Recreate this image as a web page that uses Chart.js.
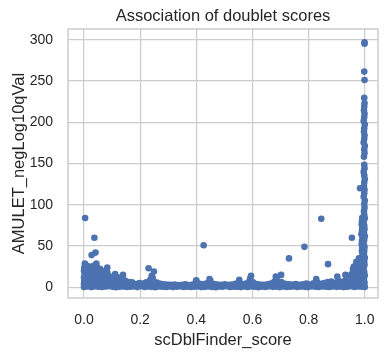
<!DOCTYPE html>
<html><head><meta charset="utf-8">
<script src="https://cdn.jsdelivr.net/npm/chart.js@4.4.0/dist/chart.umd.min.js"></script>
<style>html,body{margin:0;padding:0;background:#fff}#wrap{width:389px;height:357px;position:relative}</style>
</head><body><div id="wrap"><canvas id="c"></canvas></div>
<script>
const xTickValues = [0, 0.2, 0.4, 0.6, 0.8, 1.0];
const yTickValues = [0, 50, 100, 150, 200, 250, 300];

// isolated / scattered cells
const outlierScores = [0.004,0.037,0.027,0.041,0.426,0.845,0.785,0.730,0.869,0.954,0.961,0.970,0.983,0.230,0.249,0.111,0.139,0.083,0.702,0.686,0.931,0.902,0.827,0.592,0.595,0.683,0.553,0.447,0.400];
const outlierNegLog10q = [84,60,39,42,51,83,49,35,28,60,25,31,120,23,19,16,15,24,15,11,15,13,10,11,14,13,9,10,8.6];

// dense cluster at low scDblFinder score
const clusterScores = [
0.000,0.001,0.000,0.002,0.000,0.001,0.003,
0.012,0.011,0.013,0.012,0.010,0.014,
0.024,0.025,0.023,0.026,0.024,0.022,
0.036,0.037,0.035,0.038,0.036,0.034,
0.048,0.047,0.049,0.046,0.050,0.048,0.044,
0.060,0.061,0.059,0.062,0.058,
0.072,0.073,0.071,0.070,0.074,
0.085,0.084,0.086,0.083,
0.097,0.098,0.096,
0.110,0.109,0.112,
0.122,0.121,0.123,
0.134,0.135,
0.147,0.146,
0.160,
0.236,0.241,0.245];
const clusterNegLog10q = [
3.8,8.2,11.7,16.4,20.1,23.9,28.6,
6.3,9.8,14.2,18.1,22.4,25.7,
4.1,8.0,12.3,15.8,19.6,24.2,
5.7,10.4,13.9,18.3,21.8,26.1,
4.4,7.9,12.1,16.2,20.5,23.8,28.9,
6.1,9.7,14.3,17.8,22.2,
3.9,8.4,11.8,16.1,19.7,
5.8,10.2,13.6,17.9,
5.2,9.1,12.8,
6.3,9.9,13.7,
5.1,8.8,11.9,
5.9,9.6,
4.8,8.1,
6.2,
9.2,13.8,11.1];

// bulk of cells near zero
const bandLowScores = [0.000,0.013,0.026,0.038,0.051,0.063,0.077,0.089,0.102,0.114,0.127,0.140,0.152,0.165,0.178,0.190,0.203,0.216,0.228,0.241,0.254,0.266,0.279,0.292,0.304,0.317,0.330,0.342,0.355,0.368,0.380,0.393,0.406,0.418,0.431,0.444,0.456,0.469,0.482,0.494,0.507,0.520,0.532,0.545,0.558,0.570,0.583,0.596,0.608,0.621,0.634,0.646,0.659,0.672,0.684,0.697,0.710,0.722,0.735,0.748,0.760,0.773,0.786,0.798,0.811,0.824,0.836,0.849,0.862,0.874,0.887,0.900,0.912,0.925,0.938,0.950,0.963,0.976,0.988,1.000];
const bandLowNegLog10q = [0.4,0.9,0.2,1.1,0.6,0.3,0.8,1.2,0.5,0.1,0.7,1.0,0.3,0.6,0.9,0.2,1.3,0.4,0.8,0.5,0.1,1.0,0.6,0.3,0.9,0.2,0.7,1.1,0.4,0.8,0.3,0.6,1.0,0.2,0.5,0.9,0.4,0.1,0.8,0.6,1.2,0.3,0.7,0.5,0.2,1.0,0.4,0.9,0.6,0.1,0.8,0.3,1.1,0.5,0.7,0.2,0.9,0.4,0.6,1.0,0.3,0.8,0.5,0.2,1.1,0.7,0.4,0.9,0.6,0.3,1.0,0.5,0.8,0.2,0.7,1.2,0.4,0.9,0.6,0.3];
const bandHighScores = [0.007,0.020,0.032,0.045,0.057,0.070,0.083,0.096,0.108,0.121,0.134,0.146,0.159,0.171,0.184,0.197,0.209,0.222,0.235,0.247,0.260,0.273,0.285,0.298,0.311,0.323,0.336,0.349,0.361,0.374,0.387,0.399,0.412,0.425,0.437,0.450,0.463,0.475,0.488,0.501,0.513,0.526,0.539,0.551,0.564,0.577,0.589,0.602,0.615,0.627,0.640,0.653,0.665,0.678,0.691,0.703,0.716,0.729,0.741,0.754,0.767,0.779,0.792,0.805,0.817,0.830,0.843,0.855,0.868,0.881,0.893,0.906,0.919,0.931,0.944,0.957,0.969,0.982,0.994];
const bandHighNegLog10q = [4,3.5,4.2,3.8,4.5,3.6,4.1,5.5,4.8,6.2,5.1,6.8,4.6,5.9,3.9,5.2,4.4,6.0,5.3,7.5,5.8,4.1,3.6,3.2,2.9,3.4,2.8,3.1,3.6,2.7,3.3,7.5,4.2,3.5,4.8,8.0,4.0,3.3,3.0,3.5,2.9,3.2,4.1,6.0,3.8,4.6,7.2,6.0,3.9,3.4,3.1,3.7,4.5,6.8,5.2,6.2,4.3,3.5,3.2,3.8,3.1,3.6,4.4,3.3,4.9,6.0,4.2,5.1,6.3,7.0,5.4,7.8,6.6,8.2,9.0,10.5,12,15,18];

// rising cloud at high score
const rightScores = [
0.940,0.941,0.939,
0.950,0.951,0.949,0.952,
0.960,0.961,0.959,0.962,0.960,0.958,
0.970,0.971,0.969,0.972,0.970,0.968,0.971,
0.980,0.981,0.979,0.982,0.980,0.978,0.981,0.983,0.979,
0.990,0.991,0.989,0.992,0.990,0.988,0.991,0.990,0.989,0.992,0.990,0.991,0.989,0.990,0.992,0.988,0.990,0.991,0.989,0.990,0.991];
const rightNegLog10q = [
3.2,7.1,10.8,
4.3,8.2,11.9,15.6,
3.1,7.4,11.2,14.8,19.3,22.1,
4.2,8.1,12.3,15.9,20.2,24.1,27.8,
3.3,7.2,10.9,15.1,19.2,22.8,27.1,30.9,35.2,
4.1,8.3,12.2,16.4,20.1,24.3,28.2,32.1,36.4,40.2,44.1,48.3,52.2,56.1,60.4,64.2,68.3,72.1,76.4,80.2,84.3];

// column of cells with score ~1
const columnScores = [0.998,0.999,0.997,1.000,0.998,0.996,0.999,0.998,1.000,0.997,0.998,0.999,0.996,0.998,1.000,0.997,0.999,0.998,0.996,1.000,0.998,0.997,0.999,0.998,1.000,0.996,0.998,0.999,0.997,0.998,1.000,0.998,0.996,0.999,0.998,0.997,0.999,0.998,1.000,0.996,0.998,0.999,0.997,0.998,1.000,0.996,0.998,0.999,0.997,0.998,0.999,0.998,0.999,0.998,0.999,0.999];
const columnNegLog10q = [1.5,5.8,9.9,14.2,18.6,22.7,27.1,31.3,35.8,40.2,44.4,48.9,53.1,57.6,61.8,66.2,70.5,74.9,79.1,83.6,87.8,92.2,96.5,100.9,105.1,109.6,113.8,118.2,122.5,126.9,131.2,135.6,139.8,144.1,148.5,158.2,162.6,166.9,171.3,175.5,179.9,184.2,188.6,192.8,197.3,201.5,205.9,210.2,214.6,218.8,223.1,229.5,251.2,261.4,295.1,297.0];

const points = [];
function addGroup(xs, ys) { for (let i = 0; i < xs.length; i++) points.push({x: xs[i], y: ys[i]}); }
addGroup(bandLowScores, bandLowNegLog10q);
addGroup(bandHighScores, bandHighNegLog10q);
addGroup(clusterScores, clusterNegLog10q);
addGroup(rightScores, rightNegLog10q);
addGroup(columnScores, columnNegLog10q);
addGroup(outlierScores, outlierNegLog10q);

const FONT = 'Liberation Sans, Arial, Helvetica, sans-serif';
const TEXT = '#262626';
const GRID = '#cccccc';

const framePlugin = {
  id: 'frame',
  afterDatasetsDraw(chart) {
    const a = chart.chartArea, ctx = chart.ctx;
    ctx.save();
    ctx.strokeStyle = GRID;
    ctx.lineWidth = 1.5;
    ctx.strokeRect(a.left, a.top, a.right - a.left, a.bottom - a.top);
    ctx.restore();
  }
};

new Chart(document.getElementById('c'), {
  type: 'scatter',
  data: { datasets: [{ data: points, backgroundColor: '#4c72b0', borderWidth: 0, pointRadius: 3.3, pointHoverRadius: 3.3 }] },
  options: {
    responsive: true, maintainAspectRatio: false, animation: false, devicePixelRatio: 1,
    layout: { padding: { left: 0, right: 10, top: 0, bottom: 0 } },
    plugins: {
      legend: { display: false }, tooltip: { enabled: false },
      title: { display: true, fullSize: false, text: 'Association of doublet scores', color: TEXT,
        font: { family: FONT, size: 16.5, weight: 'normal' }, padding: { top: 6.3, bottom: 2.9 } }
    },
    scales: {
      x: {
        type: 'linear', min: -0.057, max: 1.047,
        afterBuildTicks(s) { s.ticks = xTickValues.map(v => ({ value: v })); },
        afterFit(s) { s.height = 59; },
        grid: { color: GRID, lineWidth: 1.2, drawTicks: false },
        border: { display: false },
        ticks: { padding: 14, color: TEXT, font: { family: FONT, size: 14 }, callback: v => Number(v).toFixed(1) },
        title: { display: true, text: 'scDblFinder_score', color: TEXT, font: { family: FONT, size: 16.5 }, padding: { top: 0, bottom: 7 } }
      },
      y: {
        type: 'linear', min: -13, max: 313,
        afterBuildTicks(s) { s.ticks = yTickValues.map(v => ({ value: v })); },
        afterFit(s) { s.width = 68; },
        grid: { color: GRID, lineWidth: 1.2, drawTicks: false },
        border: { display: false },
        ticks: { padding: 15, color: TEXT, font: { family: FONT, size: 14 }, callback: v => String(v) },
        title: { display: true, text: 'AMULET_negLog10qVal', color: TEXT, font: { family: FONT, size: 16.5 }, padding: { top: 9.3, bottom: 0 } }
      }
    }
  },
  plugins: [framePlugin]
});
</script></body></html>
